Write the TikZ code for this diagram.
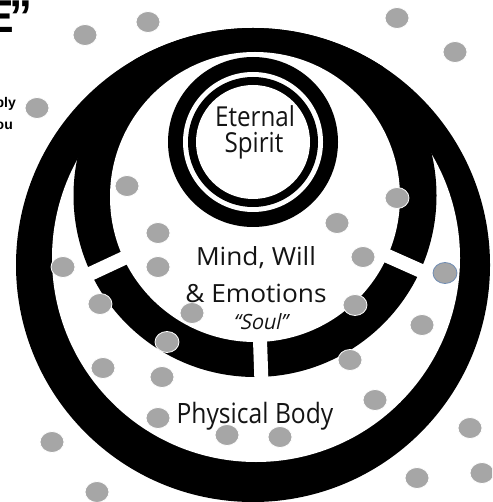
\documentclass[tikz,border=0pt]{standalone}
\usepackage{fontspec}
\usepackage{tikz}
\usetikzlibrary{calc}
\newfontfamily\handfont[FakeStretch=0.88]{Open Sans}
\newfontfamily\mindfont[FakeStretch=1.05]{Open Sans}
\newfontfamily\handslant[FakeStretch=0.95,FakeSlant=0.22]{Open Sans}
\newfontfamily\headfont{Liberation Sans}
\definecolor{dotgray}{RGB}{166,166,166}
\definecolor{dotedge}{RGB}{110,140,180}
\definecolor{inkblack}{RGB}{20,20,20}
\tikzset{
  blackdisk/.style={fill=black},
  whitedisk/.style={fill=white},
  gapcut/.style={draw=white,line width=14pt},
  spot/.style={fill=dotgray,draw=white,line width=0.8pt},
  spirittext/.style={font=\handfont\fontsize{27.5}{30}\selectfont,text=inkblack,inner sep=0pt},
  mindtext/.style={font=\mindfont\fontsize{25}{30}\selectfont,text=inkblack,inner sep=0pt},
  soultext/.style={font=\handslant\fontsize{21}{24}\selectfont,text=inkblack,inner sep=0pt},
  bodytext/.style={font=\handfont\fontsize{28}{32}\selectfont,text=inkblack,inner sep=0pt},
  headtext/.style={font=\headfont\bfseries\fontsize{46}{50}\selectfont,inner sep=0pt},
  notetext/.style={font=\headfont\bfseries\fontsize{14}{16}\selectfont,inner sep=0pt}
}

\begin{document}
\begin{tikzpicture}[x=1pt,y=-1pt]
  %% page
  \useasboundingbox (0,0) rectangle (492,502);
  \clip (0,0) rectangle (492,502);
  \fill[white] (0,0) rectangle (492,502);

  %% centres of the circles
  \coordinate (bodyc) at (253,265);
  \coordinate (crescentc) at (256,258);
  \coordinate (soulout) at (255,195.5);
  \coordinate (soulin) at (255,197);
  \coordinate (spiritc) at (253,142);

  %% outer band and soul band
  \fill[blackdisk] (bodyc) circle[radius=237];
  \fill[whitedisk] (crescentc) circle[radius=204];
  \begin{scope}
    \clip (bodyc) circle[radius=237];
    \fill[blackdisk] (soulout) circle[radius=181.5];
  \end{scope}
  \fill[whitedisk] (soulin) circle[radius=145];

  %% openings in the soul band
  \draw[gapcut] ($(soulin)+(155:128)$) -- ($(soulin)+(155:195)$);
  \draw[gapcut] ($(soulin)+(24:128)$) -- ($(soulin)+(24:195)$);
  \draw[gapcut] ($(soulin)+(88:128)$) -- ($(soulin)+(88:195)$);

  %% spirit rings
  \fill[blackdisk] (spiritc) circle[radius=85];
  \fill[whitedisk] (spiritc) circle[radius=70];
  \fill[blackdisk] (spiritc) circle[radius=65];
  \fill[whitedisk] (spiritc) circle[radius=57];

  %% dots
  \foreach \px/\py in {85/35,148/22,397/18,455/52,37/108,127/186,158/233,158/267,
      63/267,100/304,192/313,167/342,103/368,162/377,158/418,52/442,97/492,
      227/435,280/437,337/223,397/198,363/257,355/305,422/325,350/360,375/400,
      470/428,417/478,482/473}
    \fill[spot] (\px,\py) ellipse[x radius=12,y radius=10.5];
  \fill[spot,draw=dotedge] (445,273) ellipse[x radius=12,y radius=10.5];

  %% labels
  \node[spirittext,anchor=base] (eternal) at (255,127) {Eternal};
  \node[spirittext,anchor=base] (spirit) at (254,153) {Spirit};
  \node[mindtext,anchor=base] (mindwill) at (256,265) {Mind, Will};
  \node[mindtext,anchor=base] (emotions) at (256,302) {\& Emotions};
  \node[soultext,anchor=base] (soul) at (260,329) {“Soul”};
  \node[bodytext,anchor=base] (physical) at (255,423) {Physical Body};

  %% cut-off heading on the left
  \node[headtext,anchor=base east] (heading) at (33,33) {E\kern-4pt”};
  \node[notetext,anchor=base east] (noteone) at (16,108) {ply};
  \node[notetext,anchor=base east] (notetwo) at (13,130) {ou};
\end{tikzpicture}
\end{document}
